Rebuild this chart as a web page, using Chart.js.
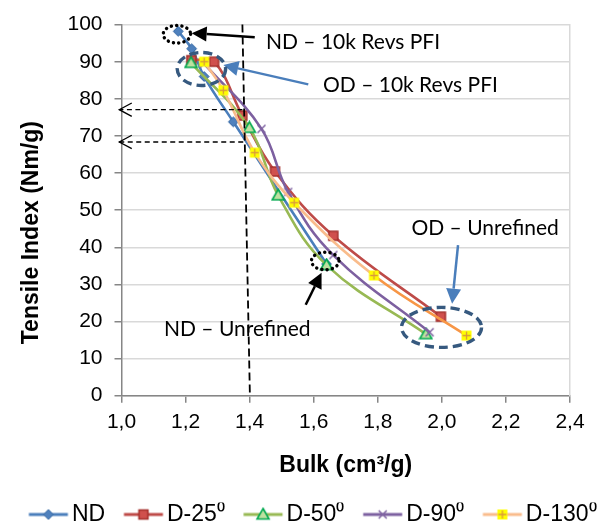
<!DOCTYPE html>
<html><head><meta charset="utf-8">
<script src="https://cdn.jsdelivr.net/npm/chart.js@4.4.0/dist/chart.umd.min.js"></script>
<style>html,body{margin:0;padding:0;background:#fff;}#wrap{width:597px;height:525px;}</style>
</head><body><div id="wrap"><canvas id="c" width="597" height="525"></canvas></div>
<script>
// ---------- data ----------
const seriesNames = ['ND', 'D-25\u2070', 'D-50\u2070', 'D-90\u2070', 'D-130\u2070'];
const ndBulk     = [1.177, 1.219, 1.258, 1.349, 1.640];
const ndTensile  = [98.2, 93.5, 86.0, 73.8, 35.5];
const d25Bulk    = [1.218, 1.289, 1.377, 1.479, 1.661, 1.997];
const d25Tensile = [90.4, 90.0, 75.5, 60.4, 43.1, 21.3];
const d50Bulk    = [1.217, 1.399, 1.489, 1.640, 1.950];
const d50Tensile = [89.7, 72.2, 54.0, 35.2, 16.6];
const d90Bulk    = [1.258, 1.437, 1.520, 1.661, 1.962];
const d90Tensile = [89.5, 71.9, 54.9, 37.9, 17.1];
const d130Bulk   = [1.258, 1.318, 1.416, 1.539, 1.788, 2.077];
const d130Tensile= [90.0, 82.3, 65.5, 52.0, 32.4, 16.2];
const xTickLabels = ['1,0','1,2','1,4','1,6','1,8','2,0','2,2','2,4'];
const yTickLabels = ['0','10','20','30','40','50','60','70','80','90','100'];
const xTitle = 'Bulk (cm\u00b3/g)';
const yTitle = 'Tensile Index (Nm/g)';

// ---------- annotations (in data units) ----------
const annoTexts = [
  {text: 'ND \u2013 10k Revs PFI', x: 1.451, y: 95.3, align: 'left'},
  {text: 'OD \u2013 10k Revs PFI', x: 1.629, y: 83.7, align: 'left'},
  {text: 'ND \u2013 Unrefined', x: 1.590, y: 18.0, align: 'right'},
  {text: 'OD \u2013 Unrefined', x: 2.135, y: 45.1, align: 'center'}
];
const annoArrows = [
  {from: [1.416, 96.6], to: [1.219, 97.7], color: '#000000'},
  {from: [1.583, 83.9], to: [1.318, 89.1], color: '#4A7EBB'},
  {from: [1.575, 24.5], to: [1.6245, 33.1], color: '#000000'},
  {from: [2.0505, 40.6], to: [2.032, 24.8], color: '#4A7EBB'}
];
const annoEllipses = [
  {cx: 1.173, cy: 97.4, rx: 13.7, ry: 8.8, kind: 'dot'},
  {cx: 1.2495, cy: 88.05, rx: 24.2, ry: 16.5, kind: 'dash'},
  {cx: 1.636, cy: 36.3, rx: 13.8, ry: 8.8, kind: 'dot'},
  {cx: 1.999, cy: 18.4, rx: 40, ry: 20, kind: 'dash'}
];
const vDash = {x1: 1.3774, y1: 100, x2: 1.4008, y2: 0};
const hArrows = [
  {y: 77.07, xFrom: 1.3774, xTo: 0.993},
  {y: 68.37, xFrom: 1.380, xTo: 0.993}
];

// ---------- styles ----------
const lineColors = ['#4A7EBB', '#BE4B48', '#98B954', '#7D60A0', '#F9BC8C'];
const markerKinds = ['diamond', 'square', 'triangle', 'cross', 'plus'];

function drawMarker(g, kind, cx, cy) {
  g.save();
  if (kind === 'diamond') {
    g.fillStyle = '#4F81BD'; g.strokeStyle = '#3A6BA5'; g.lineWidth = 1;
    g.beginPath(); g.moveTo(cx, cy - 5); g.lineTo(cx + 5, cy); g.lineTo(cx, cy + 5); g.lineTo(cx - 5, cy); g.closePath();
    g.fill(); g.stroke();
  } else if (kind === 'square') {
    g.fillStyle = '#D0504D'; g.strokeStyle = '#A5302D'; g.lineWidth = 1.5;
    g.fillRect(cx - 4.5, cy - 4.5, 9, 9); g.strokeRect(cx - 4.5, cy - 4.5, 9, 9);
  } else if (kind === 'triangle') {
    g.fillStyle = '#BFE0A0'; g.strokeStyle = '#00A84F'; g.lineWidth = 1.6;
    g.beginPath(); g.moveTo(cx, cy - 6); g.lineTo(cx + 6, cy + 4.5); g.lineTo(cx - 6, cy + 4.5); g.closePath();
    g.fill(); g.stroke();
  } else if (kind === 'cross') {
    g.strokeStyle = '#8064A2'; g.lineWidth = 1.5;
    g.beginPath(); g.moveTo(cx - 4, cy - 4); g.lineTo(cx + 4, cy + 4); g.moveTo(cx + 4, cy - 4); g.lineTo(cx - 4, cy + 4); g.stroke();
  } else if (kind === 'plus') {
    g.fillStyle = '#FFFF00'; g.fillRect(cx - 5, cy - 5, 10, 10);
    g.strokeStyle = '#D99A3C'; g.lineWidth = 1.3;
    g.beginPath(); g.moveTo(cx - 4, cy); g.lineTo(cx + 4, cy); g.moveTo(cx, cy - 4); g.lineTo(cx, cy + 4); g.stroke();
  }
  g.restore();
}
function markerImage(kind) {
  const c = document.createElement('canvas'); c.width = 15; c.height = 15;
  drawMarker(c.getContext('2d'), kind, 7.5, 7.5);
  return c;
}
const LEG_FONT = 23, LEG_BOX = 49.8, LEG_LINE = 39, LEG_GAP = 4;
const LEG_OFF = LEG_BOX / 2 + LEG_FONT / 2 - LEG_GAP - LEG_LINE / 2;
function legendImage(kind, color) {
  const W = 2 * Math.ceil(Math.abs(LEG_OFF) + LEG_LINE / 2 + 2), H = 16;
  const c = document.createElement('canvas'); c.width = W; c.height = H;
  const g = c.getContext('2d');
  const mid = W / 2 + LEG_OFF;
  g.strokeStyle = color; g.lineWidth = 3;
  g.beginPath(); g.moveTo(mid - LEG_LINE / 2, H / 2); g.lineTo(mid + LEG_LINE / 2, H / 2); g.stroke();
  drawMarker(g, kind, mid, H / 2);
  return c;
}

const allBulk = [ndBulk, d25Bulk, d50Bulk, d90Bulk, d130Bulk];
const allTensile = [ndTensile, d25Tensile, d50Tensile, d90Tensile, d130Tensile];
const markerImgs = markerKinds.map(markerImage);
const legendImgs = markerKinds.map((k, i) => legendImage(k, lineColors[i]));

const datasets = seriesNames.map((name, i) => ({
  label: name,
  data: allBulk[i].map((x, j) => ({x: x, y: allTensile[i][j]})),
  showLine: true,
  borderColor: lineColors[i],
  backgroundColor: lineColors[i],
  borderWidth: 2.6,
  tension: 0.4,
  pointStyle: markerImgs[i],
  pointRadius: 5,
  order: seriesNames.length - i,
  segment: i === 4 ? {borderColor: ctx => ctx.p0.parsed.x >= 1.7 ? '#F79646' : undefined} : undefined
}));

const TEXT_FONT = '"Liberation Sans", Arial, sans-serif';

const annoPlugin = {
  id: 'anno',
  afterDatasetsDraw(chart) {
    const g = chart.ctx, xs = chart.scales.x, ys = chart.scales.y;
    const px = v => xs.getPixelForValue(v), py = v => ys.getPixelForValue(v);
    g.save();
    // vertical dashed line
    g.strokeStyle = '#000'; g.lineWidth = 1.8; g.setLineDash([8, 4]);
    g.beginPath(); g.moveTo(px(vDash.x1), py(vDash.y1)); g.lineTo(px(vDash.x2), py(vDash.y2)); g.stroke();
    // horizontal dashed arrows
    g.lineWidth = 1.3;
    hArrows.forEach(a => {
      const y = py(a.y), x1 = px(a.xFrom), x2 = px(a.xTo);
      g.setLineDash([5, 3.5]);
      g.beginPath(); g.moveTo(x1, y); g.lineTo(x2, y); g.stroke();
      g.setLineDash([]);
      g.beginPath(); g.moveTo(x2 + 12.5, y - 6.7); g.lineTo(x2, y); g.lineTo(x2 + 12.5, y + 6.7); g.stroke();
    });
    // arrows
    g.setLineDash([]);
    annoArrows.forEach(a => {
      const x1 = px(a.from[0]), y1 = py(a.from[1]), x2 = px(a.to[0]), y2 = py(a.to[1]);
      const ang = Math.atan2(y2 - y1, x2 - x1), hl = 15, hw = 7.5;
      const bx = x2 - hl * Math.cos(ang), by = y2 - hl * Math.sin(ang);
      g.strokeStyle = a.color; g.fillStyle = a.color; g.lineWidth = 2.5;
      g.beginPath(); g.moveTo(x1, y1); g.lineTo(bx, by); g.stroke();
      g.beginPath(); g.moveTo(x2, y2);
      g.lineTo(bx + hw * Math.sin(ang), by - hw * Math.cos(ang));
      g.lineTo(bx - hw * Math.sin(ang), by + hw * Math.cos(ang));
      g.closePath(); g.fill();
    });
    // ellipses
    annoEllipses.forEach(e => {
      g.beginPath(); g.ellipse(px(e.cx), py(e.cy), e.rx, e.ry, 0, 0, Math.PI * 2);
      if (e.kind === 'dot') {
        g.strokeStyle = '#000'; g.lineWidth = 3.4; g.lineCap = 'round'; g.setLineDash([0.1, 5.2]);
      } else {
        g.strokeStyle = '#36597F'; g.lineWidth = 3.4; g.lineCap = 'butt'; g.setLineDash([9, 5]);
      }
      g.stroke();
    });
    g.setLineDash([]); g.lineCap = 'butt';
    // texts
    g.fillStyle = '#000'; g.font = '21px Lato, "Open Sans", sans-serif'; g.textBaseline = 'middle';
    annoTexts.forEach(t => { g.textAlign = t.align; g.fillText(t.text, px(t.x), py(t.y)); });
    // y axis title
    g.save();
    g.translate(32, (chart.chartArea.top + chart.chartArea.bottom) / 2 + 22.5);
    g.rotate(-Math.PI / 2);
    g.font = 'bold 23px ' + TEXT_FONT; g.textAlign = 'center'; g.textBaseline = 'middle';
    g.fillText(yTitle, 0, 0);
    g.restore();
    g.restore();
  }
};

new Chart(document.getElementById('c'), {
  type: 'scatter',
  data: {datasets: datasets},
  plugins: [annoPlugin],
  options: {
    responsive: false, animation: false, devicePixelRatio: 1,
    layout: {padding: {left: 0, right: 0, top: 20.7, bottom: -11}},
    plugins: {
      tooltip: {enabled: false},
      legend: {
        position: 'bottom', align: 'end',
        labels: {
          usePointStyle: true, pointStyleWidth: LEG_BOX, padding: 0.5, color: '#000',
          font: {family: TEXT_FONT, size: LEG_FONT},
          sort: (a, b) => a.datasetIndex - b.datasetIndex,
          generateLabels(chart) {
            const items = Chart.defaults.plugins.legend.labels.generateLabels(chart);
            items.forEach(it => { it.pointStyle = legendImgs[it.datasetIndex]; });
            return items;
          }
        }
      }
    },
    scales: {
      x: {
        type: 'linear', min: 1.0, max: 2.4,
        afterBuildTicks(s) { s.ticks = xTickLabels.map(l => ({value: parseFloat(l.replace(',', '.'))})); },
        afterFit(s) { s.height = 106.8; },
        ticks: {callback: (v, i) => xTickLabels[i], color: '#000', font: {family: TEXT_FONT, size: 21}, padding: 7, maxRotation: 0},
        grid: {drawOnChartArea: false, tickLength: 7, color: '#868686', tickColor: '#868686', lineWidth: 1.5},
        border: {color: '#868686', width: 1.5},
        title: {display: true, text: xTitle, color: '#000', font: {family: TEXT_FONT, size: 23, weight: 'bold'}, padding: {top: 0, bottom: 23}}
      },
      y: {
        type: 'linear', min: 0, max: 100,
        afterBuildTicks(s) { s.ticks = yTickLabels.map(l => ({value: parseFloat(l)})); },
        afterFit(s) { s.width = 121.5; },
        ticks: {callback: (v, i) => yTickLabels[i], color: '#000', font: {family: TEXT_FONT, size: 21}, padding: 12},
        grid: {color: '#D9D9D9', lineWidth: 1.5, tickLength: 7, tickColor: '#868686'},
        border: {color: '#868686', width: 1.5},
        title: {display: false}
      },
      yR: {
        type: 'linear', position: 'right', min: 0, max: 100,
        afterFit(s) { s.width = 27; },
        ticks: {display: false},
        grid: {drawOnChartArea: false, drawTicks: false},
        border: {color: '#D9D9D9', width: 1.5}
      }
    }
  }
});
</script>
</body></html>
